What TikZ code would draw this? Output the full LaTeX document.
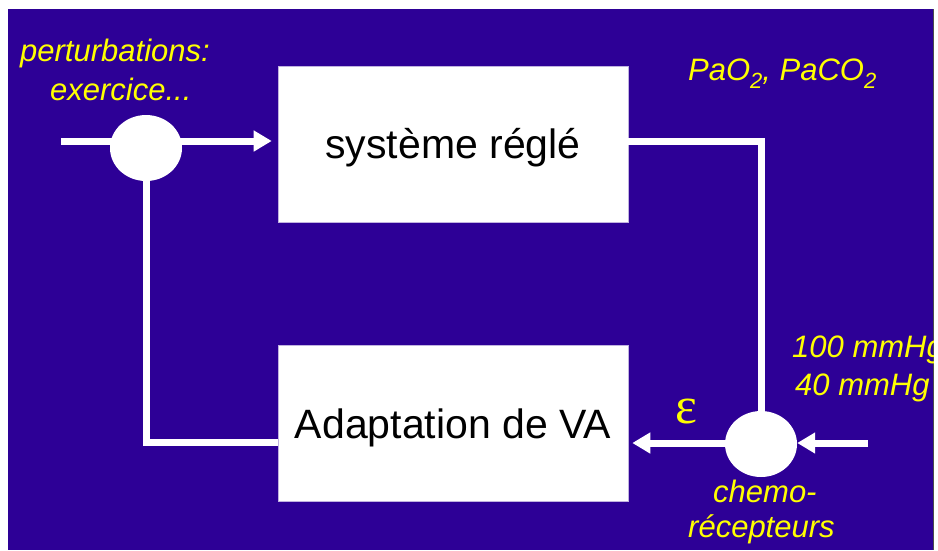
\documentclass[tikz,border=0pt]{standalone}
\usepackage{fontspec}
\setmainfont{Liberation Sans}
\newfontfamily\greekserif{Liberation Serif}
\usetikzlibrary{arrows.meta,shapes.geometric}
\definecolor{bgblue}{RGB}{45,0,150}
\definecolor{ylw}{RGB}{255,255,0}
\newcommand{\subtwo}{\raisebox{-8pt}{\fontsize{22}{26}\selectfont 2}}
\begin{document}
\begin{tikzpicture}[x=1pt,y=-1pt,
  wire/.style={draw=white,line width=7pt},
  arr/.style={wire,-{Triangle[length=18pt,width=20pt]}},
  blockbox/.style={fill=white,draw=white!70!bgblue,line width=0.6pt,minimum width=350pt,minimum height=156pt,inner sep=0pt,text height=29.5pt,text depth=0pt,font=\fontsize{41}{49}\selectfont},
  sumnode/.style={ellipse,fill=white,minimum width=72pt,minimum height=66pt,inner sep=0pt},
  lbl/.style={text=ylw,font=\fontsize{31}{37}\selectfont\itshape,inner sep=0pt,anchor=base west}]
\useasboundingbox (0,0) rectangle (938,550);
\fill[white] (0,0) rectangle (938,550);
\fill[bgblue] (8,9) rectangle (933,550);
\draw[gray!60!black,line width=1pt] (933.5,9) -- (933.5,550);
\begin{scope}
\clip (8,9) rectangle (933,550);
\node[blockbox] (sys) at (453,144) {système réglé};
\node[blockbox] (adapt) at (453,423.5) {Adaptation de VA};
\node[sumnode] (c1) at (146,148) {};
\node[sumnode] (c2) at (761,444) {};
\coordinate (in1) at (61,141);
\coordinate (tr) at (761,141);
\coordinate (rin) at (868,443);
\coordinate (fb) at (278,442);
\draw[wire] (in1) -- (c1.center |- in1);
\draw[arr,shorten >=6pt] (c1.center |- in1) -- (sys.west |- in1);
\draw[wire] (sys.east |- tr) -- (tr) -- (c2.center);
\draw[arr] (rin) -- (c2.east |- rin);
\draw[arr,shorten >=4pt] (c2.center |- rin) -- (adapt.east |- rin);
\draw[wire] (adapt.west |- fb) -| (c1.center);
\node[lbl] (pert) at (20,61) {perturbations:};
\node[lbl] (exer) at (50,100) {exercice...};
\node[lbl] (pa) at (688,80) {PaO\subtwo, PaCO\subtwo};
\node[lbl] (v100) at (792,357) {100 mmHg};
\node[lbl] (v40) at (795,395) {40 mmHg};
\node[lbl] (chemo) at (713,502) {chemo-};
\node[lbl] (recep) at (688,537) {récepteurs};
\node[text=ylw,font=\greekserif\fontsize{52}{60}\selectfont,inner sep=0pt,anchor=base west] (eps) at (675,423) {ε};
\end{scope}
\end{tikzpicture}
\end{document}
